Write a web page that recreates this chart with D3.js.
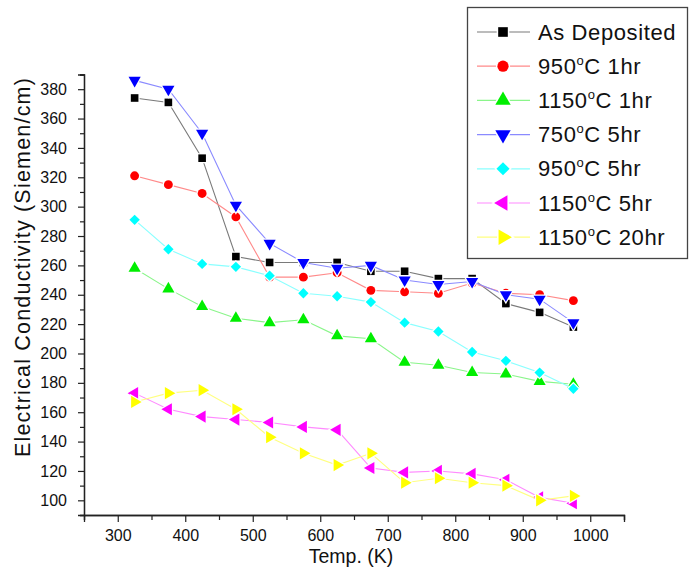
<!DOCTYPE html>
<html>
<head>
<meta charset="utf-8">
<script src="https://cdn.jsdelivr.net/npm/d3@7"></script>
<style>
  body { margin: 0; background: #fff; }
  svg { font-family: "Liberation Sans", Arial, sans-serif; }
</style>
</head>
<body>
<svg id="chart" width="694" height="571"></svg>
<script>
// temperatures (K)
const temps = [325, 375, 425, 475, 525, 575, 625, 675, 725, 775, 825, 875, 925, 975];

const asDeposited = [374, 371, 333, 266, 262, 262, 262, 256, 256, 251, 251, 234, 228, 218];
const c950h1     = [321, 315, 309, 293, 252, 252, 255, 243, 242, 241, 248, 241, 240, 236];
const c1150h1    = [258, 244, 232, 224, 221, 223, 212, 210, 194, 192, 187, 186, 181, 179];
const c750h5     = [386, 380, 350, 301, 275, 262, 258, 260, 250, 247, 249, 240, 237, 221];
const c950h5     = [291, 271, 261, 259, 253, 241, 239, 235, 221, 215, 201, 195, 187, 176];
const c1150h5    = [173, 162, 157, 155, 153, 150, 148, 122, 119, 120, 118, 114, 102, 98];
const c1150h20   = [167, 173, 175, 162, 143, 132, 124, 132, 112, 115, 112, 110, 100, 103];

const xTicks = [300, 400, 500, 600, 700, 800, 900, 1000];
const yTicks = [100, 120, 140, 160, 180, 200, 220, 240, 260, 280, 300, 320, 340, 360, 380];

// name, temperature text, suffix, values, marker, colour, line colour
const series = [
  { name: "As Deposited", deg: null, rest: "", values: asDeposited, shape: "square", color: "#000000", line: "#7a7a7a" },
  { name: "950", deg: "C", rest: " 1hr", values: c950h1, shape: "circle", color: "#ff0000", line: "#ff8a8a" },
  { name: "1150", deg: "C", rest: " 1hr", values: c1150h1, shape: "up", color: "#00ee00", line: "#8af58a" },
  { name: "750", deg: "C", rest: " 5hr", values: c750h5, shape: "down", color: "#0000ff", line: "#8a8aff" },
  { name: "950", deg: "C", rest: " 5hr", values: c950h5, shape: "diamond", color: "#00ffff", line: "#8affff" },
  { name: "1150", deg: "C", rest: " 5hr", values: c1150h5, shape: "left", color: "#ff00ff", line: "#ff8aff" },
  { name: "1150", deg: "C", rest: " 20hr", values: c1150h20, shape: "right", color: "#ffff00", line: "#ffff80" }
];

const svg = d3.select("#chart");
const x = d3.scaleLinear().domain([250, 1050]).range([84, 624]);
const y = d3.scaleLinear().domain([90, 390]).range([515, 74.5]);

function symbolPath(shape, big) {
  const k = big ? 1.6 : 1;
  if (shape === "square") return { d: d3.symbol(d3.symbolSquare, 58 * k)(), rot: 0 };
  if (shape === "circle") return { d: d3.symbol(d3.symbolCircle, 62 * k)(), rot: 0 };
  // diamond = square turned 45 degrees
  if (shape === "diamond") return { d: d3.symbol(d3.symbolSquare, 54 * k)(), rot: 45 };
  const tri = d3.symbol(d3.symbolTriangle, 64 * k)();
  const rot = { up: 0, down: 180, left: -90, right: 90 }[shape];
  return { d: tri, rot };
}

// axes
const axisColor = "#222";
const yMinor = d3.range(90, 391, 10).filter(v => v % 20 !== 0);
const xMinor = d3.range(250, 1051, 50).filter(v => v % 100 !== 0);

const gx = svg.append("g").attr("transform", "translate(0,515)");
gx.call(d3.axisBottom(x).tickValues(xMinor).tickSize(5).tickFormat(""));
gx.call(g => g.append("g").call(d3.axisBottom(x).tickValues(xTicks).tickSize(7).tickPadding(8).tickFormat(d3.format("d"))));
gx.selectAll("path.domain").attr("stroke", axisColor).attr("stroke-width", 1.3);
gx.selectAll("line").attr("stroke", axisColor).attr("stroke-width", 1.2);
gx.selectAll("text").attr("font-size", 16).attr("fill", "#111");

const gy = svg.append("g").attr("transform", "translate(84,0)");
gy.call(d3.axisLeft(y).tickValues(yMinor).tickSize(4).tickFormat(""));
gy.call(g => g.append("g").call(d3.axisLeft(y).tickValues(yTicks).tickSize(6).tickPadding(11).tickFormat(d3.format("d"))));
gy.selectAll("path.domain").attr("stroke", axisColor).attr("stroke-width", 1.3);
gy.selectAll("line").attr("stroke", axisColor).attr("stroke-width", 1.2);
gy.selectAll("text").attr("font-size", 16).attr("fill", "#111");

// axis titles
svg.append("text")
  .attr("x", 351).attr("y", 563)
  .attr("text-anchor", "middle")
  .attr("font-size", 19.5).attr("fill", "#111")
  .text("Temp. (K)");

svg.append("text")
  .attr("transform", "translate(30,267) rotate(-90)")
  .attr("text-anchor", "middle")
  .attr("font-size", 21.5).attr("letter-spacing", 1.2).attr("fill", "#111")
  .text("Electrical Conductivity (Siemen/cm)");

// series
const line = d3.line().x((d, i) => x(temps[i])).y(d => y(d));

series.forEach(s => {
  const g = svg.append("g");
  g.append("path")
    .datum(s.values)
    .attr("fill", "none")
    .attr("stroke", s.line)
    .attr("stroke-width", 1.1)
    .attr("d", line);
  const sym = symbolPath(s.shape, false);
  g.selectAll("path.mark")
    .data(s.values)
    .join("path")
    .attr("class", "mark")
    .attr("transform", (d, i) => `translate(${x(temps[i])},${y(d)}) rotate(${sym.rot})`)
    .attr("d", sym.d)
    .attr("fill", s.color)
    .attr("stroke", "#fff")
    .attr("stroke-width", 2.5)
    .style("paint-order", "stroke");
});

// legend
const leg = svg.append("g");
leg.append("rect")
  .attr("x", 467.5).attr("y", 7.5)
  .attr("width", 220).attr("height", 251)
  .attr("fill", "#fff")
  .attr("stroke", "#444").attr("stroke-width", 1.3);

series.forEach((s, i) => {
  const cy = 32 + i * 34.2;
  const row = leg.append("g").attr("transform", `translate(0,${cy})`);
  row.append("line")
    .attr("x1", 477).attr("x2", 530)
    .attr("stroke", s.line).attr("stroke-width", 1.2);
  const sym = symbolPath(s.shape, true);
  row.append("path")
    .attr("transform", `translate(503,0) rotate(${sym.rot})`)
    .attr("d", sym.d)
    .attr("fill", s.color)
    .attr("stroke", "#fff").attr("stroke-width", 3)
    .style("paint-order", "stroke");
  const t = row.append("text")
    .attr("x", 538).attr("y", 7.5)
    .attr("font-size", 22).attr("letter-spacing", 0.6).attr("fill", "#111");
  t.append("tspan").text(s.name);
  if (s.deg) {
    t.append("tspan").attr("dy", -9).attr("font-size", 13).text("o");
    t.append("tspan").attr("dy", 9).text(s.deg + s.rest);
  }
});
</script>
</body>
</html>
